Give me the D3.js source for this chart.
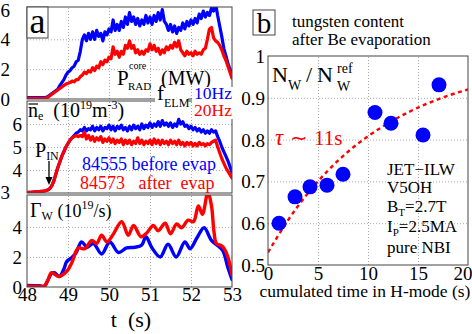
<!DOCTYPE html>
<html><head><meta charset="utf-8">
<script src="https://cdn.jsdelivr.net/npm/d3@7"></script>
<style>
html,body{margin:0;padding:0;background:#fff;}
svg{display:block;font-family:"Liberation Serif","Times New Roman",serif;}
text{white-space:pre;}
</style></head><body>
<svg id="c" width="472" height="334"></svg>
<script>
// ---------------- data ----------------
const tStart = 48, tStep = 0.05;
// P_RAD core (MW)
const pradBlue = [0.1,0.1,0.1,0.1,0.1,0.1,0.1,0.1,0.1,0.1,
 0.15,0.25,0.35,0.45,0.55,0.65,0.9,1.1,1.3,1.6,1.8,
 1.9,2.1,2.2,2.5,2.6,3.2,4.0,4.3,3.9,4.4,
 4.0,4.5,4.0,4.6,4.2,4.4,3.9,4.5,4.3,4.7,
 4.5,5.3,4.6,5.0,4.6,5.2,4.8,5.5,5.0,5.8,
 5.2,5.5,5.0,5.4,4.9,5.3,5.0,5.6,5.1,5.5,
 5.0,5.6,5.2,5.8,5.3,6.0,5.2,5.0,4.6,5.0,
 4.5,4.9,4.4,4.8,4.6,5.1,4.7,5.2,4.9,5.3,
 5.0,5.4,5.1,5.7,5.4,5.9,5.5,5.8,5.6,6.1,
 5.9,6.4,5.6,4.9,4.2,3.4,2.9,2.4,2.0,1.7];
const pradRed = [0.05,0.05,0.05,0.05,0.05,0.05,0.05,0.05,0.05,0.05,
 0.1,0.2,0.3,0.4,0.5,0.6,0.7,0.8,0.9,1.0,1.05,
 1.1,1.2,1.15,1.3,1.3,1.5,1.6,1.8,1.7,1.9,
 1.8,2.1,1.9,2.2,2.1,2.5,2.3,2.6,2.5,2.8,
 2.7,3.5,3.0,3.2,2.8,3.2,3.0,3.6,3.4,3.9,
 3.4,3.6,3.1,3.3,3.0,3.2,3.0,3.3,3.2,3.7,
 3.3,3.6,3.2,3.4,3.0,3.3,3.1,3.5,3.3,3.6,
 3.4,3.8,3.5,3.9,3.3,3.1,2.9,3.2,3.0,3.1,
 2.9,3.2,3.0,3.1,3.0,3.3,3.4,4.0,4.7,4.8,
 4.1,3.9,3.8,3.6,3.3,2.9,2.6,2.2,1.8,1.4];
// line-averaged density (1e19 m^-3)
const neBlue = [3.02,3.03,3.03,3.04,3.05,3.05,3.06,3.07,3.08,3.1,
 3.13,3.18,3.3,3.5,3.8,4.1,4.35,4.6,4.8,5.0,5.15,
 5.3,5.4,5.5,5.6,5.65,5.75,5.7,5.85,5.7,5.8,
 5.75,5.9,5.7,5.85,5.75,5.9,5.7,5.85,5.8,5.95,
 5.75,5.9,5.7,5.9,5.8,5.95,5.75,5.85,5.7,5.9,
 5.75,5.95,5.8,5.9,5.75,6.0,5.8,5.95,5.85,6.05,
 5.85,6.0,5.9,6.1,5.9,6.15,5.95,6.05,5.9,6.05,
 5.85,6.0,5.9,6.2,6.0,6.1,5.9,5.95,5.8,5.9,
 5.75,5.85,5.7,5.8,5.65,5.75,5.6,5.7,5.6,5.75,
 5.65,5.7,5.45,5.25,5.0,4.8,4.6,4.4,4.15,3.9];
const neRed = [3.02,3.03,3.03,3.04,3.05,3.05,3.06,3.07,3.08,3.1,
 3.13,3.18,3.3,3.5,3.8,4.1,4.35,4.6,4.8,5.0,5.15,
 5.3,5.4,5.45,5.5,5.45,5.5,5.45,5.65,5.35,5.5,
 5.3,5.45,5.25,5.4,5.3,5.45,5.2,5.35,5.25,5.4,
 5.2,5.35,5.15,5.3,5.2,5.35,5.1,5.3,5.15,5.3,
 5.1,5.25,5.15,5.4,5.15,5.3,5.1,5.25,5.15,5.3,
 5.1,5.35,5.15,5.3,5.1,5.3,5.15,5.25,5.1,5.3,
 5.15,5.25,5.1,5.3,5.1,5.2,5.05,5.2,5.1,5.2,
 5.05,5.15,5.05,5.2,5.1,5.15,5.05,5.15,5.1,5.2,
 5.25,5.3,5.0,4.75,4.5,4.3,4.1,3.95,3.8,3.65];
// tungsten influx (1e19 /s)
const gwBlueT = [48.0,48.3,48.42,48.5,48.6,48.67,48.79,48.9,48.97,49.09,49.2,49.33,49.47,49.62,49.82,50.02,50.23,50.43,50.63,50.8,50.9,51.05,51.25,51.44,51.64,51.85,51.98,52.15,52.32,52.5,52.68,52.78,52.9,53.0];
const gwBlueV = [0.1,0.08,0.05,0.4,0.9,0.95,0.7,1.2,1.7,1.95,2.3,3.0,2.65,2.9,2.2,3.0,2.3,2.6,2.65,2.8,3.35,2.6,2.0,2.85,2.0,3.0,2.55,3.3,3.95,3.1,2.7,2.4,1.3,0.5];
const gwRedT = [48.0,48.3,48.42,48.5,48.6,48.77,48.97,49.09,49.25,49.41,49.58,49.7,49.82,49.95,50.1,50.31,50.47,50.6,50.78,50.92,51.08,51.2,51.37,51.5,51.65,51.77,51.93,52.06,52.18,52.28,52.41,52.5,52.56,52.62,52.74,52.8,52.9,53.0];
const gwRedV = [0.05,0.05,0.05,0.4,0.95,0.7,1.05,1.6,2.6,2.55,3.1,2.9,3.45,3.0,3.5,4.35,3.45,4.1,3.35,3.6,4.1,3.75,4.25,3.55,4.2,3.95,4.45,4.35,5.4,4.85,6.3,5.4,3.7,2.9,2.75,2.6,2.0,0.8];
// panel b
const cumTime = [1.1,2.7,4.2,5.9,7.5,10.7,12.3,15.5,17.1];
const nwRatio = [0.600,0.663,0.687,0.691,0.717,0.865,0.839,0.811,0.931];
const fitT = [0,2,4,6,8,10,12,14,16,18,20];
const fitV = [0.53,0.607,0.672,0.726,0.771,0.808,0.839,0.865,0.887,0.905,0.92];
// ticks
const xTicksA = [48,49,50,51,52,53];
const yTicksTop = [0,2,4,6];
const yTicksMid = [3,4,5,6];
const yTicksBot = [0,2,4];
const xTicksB = [0,5,10,15,20];
const yTicksB = [0.5,0.6,0.7,0.8,0.9,1];
const yTickLabelsB = ["0.5","0.6","0.7","0.8","0.9","1"];

// ---------------- drawing ----------------
const svg = d3.select("#c");
const BLUE = "#0000ff", RED = "#ff0000", FRAME = "#444", GRID = "#a8a8a8";

const xA = d3.scaleLinear().domain([48,53]).range([27,232]);
const yTop = d3.scaleLinear().domain([0,6.17]).range([99,7]);
const yMid = d3.scaleLinear().domain([3,7]).range([193,101]);
const yBot = d3.scaleLinear().domain([0,6.13]).range([287,195]);

const uniform = arr => arr.map((v,i) => [tStart + i*tStep, v]);
const paired = (T,V) => T.map((t,i) => [t, V[i]]);

function T(x, y, s, size, opt = {}) {
  const t = svg.append("text").attr("x", x).attr("y", y)
    .attr("font-size", size).attr("fill", opt.fill || "#000")
    .attr("text-anchor", opt.anchor || "start").text(s);
  if (opt.italic) t.attr("font-style", "italic");
  return t;
}

function panelA(name, ys, gridVals, series) {
  const yb = ys.range()[0], yt = ys.range()[1];
  const [x0, x1] = xA.range();
  const g = svg.append("g");
  g.append("clipPath").attr("id", "clip" + name).append("rect")
    .attr("x", x0).attr("y", yt).attr("width", x1 - x0).attr("height", yb - yt);
  g.append("g").attr("transform", `translate(0,${yb})`)
    .call(d3.axisBottom(xA).tickValues([49,50,51,52]).tickSize(-(yb - yt)).tickFormat(""))
    .call(a => a.select(".domain").remove())
    .call(a => a.selectAll("line").attr("stroke", GRID).attr("stroke-dasharray", "1,2"));
  g.append("g").attr("transform", `translate(${x0},0)`)
    .call(d3.axisLeft(ys).tickValues(gridVals).tickSize(-(x1 - x0)).tickFormat(""))
    .call(a => a.select(".domain").remove())
    .call(a => a.selectAll("line").attr("stroke", GRID).attr("stroke-dasharray", "1,2"));
  series.forEach(s => {
    g.append("path").datum(s.data).attr("clip-path", `url(#clip${name})`)
      .attr("fill", "none").attr("stroke", s.color).attr("stroke-width", s.w)
      .attr("stroke-linejoin", "round").attr("stroke-linecap", "round")
      .attr("d", d3.line().x(d => xA(d[0])).y(d => ys(d[1])).curve(s.curve || d3.curveLinear));
  });
  g.append("rect").attr("x", x0).attr("y", yt).attr("width", x1 - x0).attr("height", yb - yt)
    .attr("fill", "none").attr("stroke", FRAME).attr("stroke-width", 1);
  return g;
}

panelA("top", yTop, [2,4], [
  {data: uniform(pradBlue), color: BLUE, w: 3.2},
  {data: uniform(pradRed), color: RED, w: 3.2}
]);
panelA("mid", yMid, [4,5,6], [
  {data: uniform(neBlue), color: BLUE, w: 3.2},
  {data: uniform(neRed), color: RED, w: 3.2}
]);
panelA("bot", yBot, [2,4], [
  {data: paired(gwBlueT, gwBlueV), color: BLUE, w: 3.4, curve: d3.curveCatmullRom},
  {data: paired(gwRedT, gwRedV), color: RED, w: 3.4, curve: d3.curveCatmullRom}
]);

// left y tick labels
function yLabels(ys, vals, xRight, special) {
  const ax = svg.append("g").attr("transform", `translate(${xRight},0)`)
    .call(d3.axisLeft(ys).tickValues(vals).tickSize(0).tickPadding(0).tickFormat(d3.format("d")));
  ax.select(".domain").remove();
  ax.selectAll("text").attr("font-family", "Liberation Serif").attr("font-size", 19).attr("fill", "#000")
    .attr("dy", "0.34em");
  if (special) ax.selectAll(".tick").filter(d => special.includes(d)).attr("transform", function(d){ return `translate(-12,${ys(d)})`; });
  return ax;
}
yLabels(yTop, yTicksTop, 10);
yLabels(yMid, yTicksMid, 22, [3]);
yLabels(yBot, yTicksBot, 22);

// x tick labels (panel a)
{
  const ax = svg.append("g").attr("transform", `translate(0,287)`)
    .call(d3.axisBottom(xA).tickValues(xTicksA).tickSize(0).tickPadding(0).tickFormat(d3.format("d")));
  ax.select(".domain").remove();
  ax.selectAll("text").attr("font-family", "Liberation Serif").attr("font-size", 19).attr("fill", "#000")
    .attr("dy", null).attr("y", 14);
}
T(131, 327, "t  (s)", 22, {anchor: "middle"});

// "a" box
svg.append("rect").attr("x", 27).attr("y", 7).attr("width", 21).attr("height", 31)
  .attr("fill", "#fff").attr("stroke", FRAME);
T(37.5, 33, "a", 36, {anchor: "middle"});

// P_RAD core label
T(117, 85, "P", 21);
T(128, 90, "RAD", 11);
T(129, 69, "core", 10);
T(161, 85, "(MW)", 20);

// f_ELM labels with white backgrounds
svg.append("rect").attr("x", 155).attr("y", 88).attr("width", 33).attr("height", 20).attr("fill", "#fff");
svg.append("rect").attr("x", 192).attr("y", 87).attr("width", 41).attr("height", 32).attr("fill", "#fff");
T(157, 100, "f", 21);
T(164, 107, "ELM", 12);
T(232, 99, "10Hz", 17.5, {fill: BLUE, anchor: "end"});
T(232, 116, "20Hz", 17.5, {fill: RED, anchor: "end"});

// n_e label
{
  const t = T(28, 117, "n", 20);
  t.append("tspan").attr("font-size", 12).attr("dy", 3).text("e");
  t.append("tspan").attr("font-size", 20).attr("dy", -3).text("  (10");
  t.append("tspan").attr("font-size", 12).attr("dy", -8).text("19");
  t.append("tspan").attr("font-size", 20).attr("dy", 8).text("m");
  t.append("tspan").attr("font-size", 12).attr("dy", -8).text("-3");
  t.append("tspan").attr("font-size", 20).attr("dy", 8).text(")");
  svg.append("line").attr("x1", 28.5).attr("x2", 38).attr("y1", 104).attr("y2", 104)
    .attr("stroke", "#000").attr("stroke-width", 1.2);
}
// P_IN
{
  const t = T(35, 157, "P", 20);
  t.append("tspan").attr("font-size", 12).attr("dy", 3).text("IN");
  svg.append("line").attr("x1", 49).attr("x2", 49).attr("y1", 161).attr("y2", 179)
    .attr("stroke", "#000").attr("stroke-width", 1.3);
  svg.append("path").attr("d", "M45.5,177 L49,185 L52.5,177 Z").attr("fill", "#000");
}
T(82, 170, "84555 before evap", 18, {fill: BLUE});
T(80, 189, "84573   after  evap", 18, {fill: RED});

// Gamma_W label
{
  const t = T(30, 217, "Γ", 20);
  t.append("tspan").attr("font-size", 12).attr("dy", 3).text("W");
  t.append("tspan").attr("font-size", 18).attr("dy", -3).text(" (10");
  t.append("tspan").attr("font-size", 12).attr("dy", -8).text("19");
  t.append("tspan").attr("font-size", 18).attr("dy", 8).text("/s)");
}

// ---------------- panel b ----------------
const xB = d3.scaleLinear().domain([0,20]).range([268,468]);
const yB = d3.scaleLinear().domain([0.5,1]).range([265,56]);
{
  const [x0, x1] = xB.range(), [yb, yt] = yB.range();
  const g = svg.append("g");
  g.append("clipPath").attr("id", "clipB").append("rect")
    .attr("x", x0).attr("y", yt).attr("width", x1 - x0).attr("height", yb - yt);
  g.append("g").attr("transform", `translate(0,${yb})`)
    .call(d3.axisBottom(xB).tickValues([5,10,15]).tickSize(-(yb - yt)).tickFormat(""))
    .call(a => a.select(".domain").remove())
    .call(a => a.selectAll("line").attr("stroke", GRID).attr("stroke-dasharray", "1,2"));
  g.append("g").attr("transform", `translate(${x0},0)`)
    .call(d3.axisLeft(yB).tickValues([0.6,0.7,0.8,0.9]).tickSize(-(x1 - x0)).tickFormat(""))
    .call(a => a.select(".domain").remove())
    .call(a => a.selectAll("line").attr("stroke", GRID).attr("stroke-dasharray", "1,2"));
  g.append("path").datum(paired(fitT, fitV)).attr("clip-path", "url(#clipB)")
    .attr("fill", "none").attr("stroke", RED).attr("stroke-width", 2.4)
    .attr("stroke-dasharray", "4,3.5")
    .attr("d", d3.line().x(d => xB(d[0])).y(d => yB(d[1])).curve(d3.curveMonotoneX));
  g.selectAll("circle.pt").data(paired(cumTime, nwRatio)).join("circle").attr("class", "pt")
    .attr("cx", d => xB(d[0])).attr("cy", d => yB(d[1])).attr("r", 7.5).attr("fill", BLUE);
  g.append("rect").attr("x", x0).attr("y", yt).attr("width", x1 - x0).attr("height", yb - yt)
    .attr("fill", "none").attr("stroke", FRAME).attr("stroke-width", 1);

  const ax = svg.append("g").attr("transform", `translate(0,${yb})`)
    .call(d3.axisBottom(xB).tickValues(xTicksB).tickSize(0).tickPadding(0).tickFormat(d3.format("d")));
  ax.select(".domain").remove();
  ax.selectAll("text").attr("font-family", "Liberation Serif").attr("font-size", 19).attr("fill", "#000")
    .attr("dy", null).attr("y", 15);
  // last label is pushed left by the picture edge, as in the reference
  ax.selectAll(".tick").filter(d => d === 20).select("text").attr("text-anchor", "end").attr("x", 4);
  const ay = svg.append("g").attr("transform", `translate(265,0)`)
    .call(d3.axisLeft(yB).tickValues(yTicksB).tickSize(0).tickPadding(0).tickFormat((d,i) => yTickLabelsB[i]));
  ay.select(".domain").remove();
  ay.selectAll("text").attr("font-family", "Liberation Serif").attr("font-size", 19).attr("fill", "#000")
    .attr("dy", "0.34em");
}
T(365, 297, "cumulated time in H-mode (s)", 17.5, {anchor: "middle"});

// "b" box and title
svg.append("rect").attr("x", 253).attr("y", 10).attr("width", 22).attr("height", 25)
  .attr("fill", "#fff").attr("stroke", FRAME);
T(264, 33, "b", 29, {anchor: "middle"});
T(292, 27, "tungsten content", 17);
T(292, 45, "after Be evaporation", 17);

// N_W / N_W^ref
{
  const t = T(272, 82, "N", 22);
  t.append("tspan").attr("font-size", 14).attr("dy", 8).text("W");
  T(306, 82, "/", 22);
  T(317, 82, "N", 22);
  T(337, 73, "ref", 14);
  T(337, 91, "W", 14);
}
// tau
T(275, 145, "τ", 23, {fill: RED, italic: true});
T(290, 145, "∼", 21, {fill: RED});
T(314, 145, "11s", 21, {fill: RED});

// conditions
T(387, 175, "JET−ILW", 17);
T(387, 193, "V5OH", 17);
{
  const t = T(387, 212, "B", 17);
  t.append("tspan").attr("font-size", 11).attr("dy", 4).text("T");
  t.append("tspan").attr("font-size", 17).attr("dy", -4).text("=2.7T");
}
{
  const t = T(387, 232, "I", 17);
  t.append("tspan").attr("font-size", 11).attr("dy", 4).text("P");
  t.append("tspan").attr("font-size", 17).attr("dy", -4).text("=2.5MA");
}
T(387, 253, "pure NBI", 17);
</script>
</body></html>
